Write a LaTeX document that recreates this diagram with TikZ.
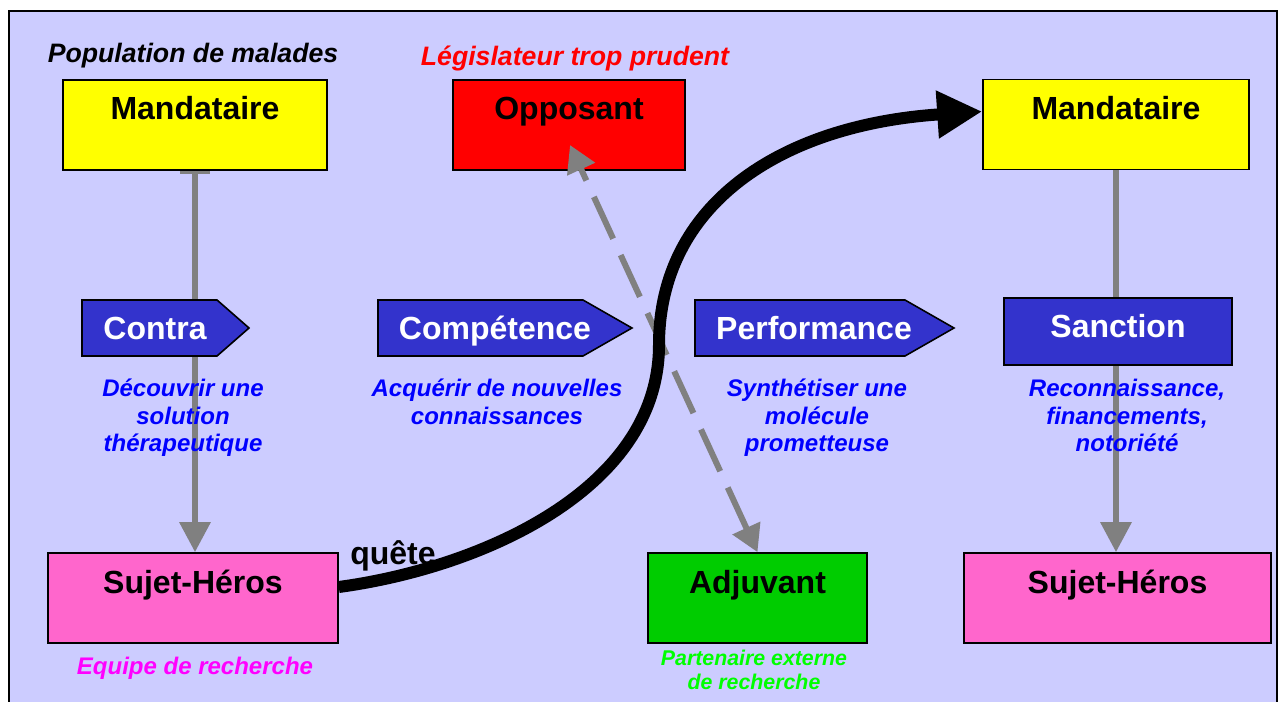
\documentclass[tikz,border=0pt]{standalone}
\usepackage{fontspec}
\setmainfont{Liberation Sans}
\usetikzlibrary{arrows.meta,calc,backgrounds}

\definecolor{fond}{HTML}{CCCCFF}
\definecolor{jaune}{HTML}{FFFF00}
\definecolor{rouge}{HTML}{FF0000}
\definecolor{rose}{HTML}{FF66CC}
\definecolor{vert}{HTML}{00CC00}
\definecolor{bleu}{HTML}{3333CC}
\definecolor{gris}{HTML}{808080}
\definecolor{bleutxt}{HTML}{0000FF}
\definecolor{magentatxt}{HTML}{FF00FF}
\definecolor{verttxt}{HTML}{00FF00}

\begin{document}
\begin{tikzpicture}[x=0.75pt,y=-0.75pt,
    actant/.style={draw,line width=1.2pt,inner sep=0pt,text height=30pt,text depth=37.5pt,font=\bfseries\fontsize{24}{28}\selectfont},
    etape/.style={draw,line width=1.2pt,fill=bleu},
    etapetxt/.style={anchor=base,inner sep=0pt,text=white,font=\bfseries\fontsize{24}{28}\selectfont},
    legende/.style={anchor=north,align=center,inner sep=0pt,text=bleutxt,font=\bfseries\itshape\fontsize{18}{20.6}\selectfont},
    titre/.style={anchor=base,inner sep=0pt,font=\bfseries\itshape\fontsize{20}{24}\selectfont},
    liaison/.style={draw=gris,line width=4.5pt,-{Triangle[length=22.5pt,width=22.5pt]}},
    pointille/.style={draw=gris,line width=4.5pt,dash pattern=on 34.5pt off 13.5pt,{Triangle[length=20pt,width=22pt]}-{Triangle[length=20pt,width=22pt]}},
    quete/.style={draw=black,line width=9pt,-{Triangle[length=33.75pt,width=33.75pt]}}]
    %
    \node[actant,fill=jaune,minimum width=198pt](mandL) at (195,125){Mandataire};
    \node[actant,fill=rouge,minimum width=174pt](opp) at (569,125){Opposant};
    \node[actant,fill=jaune,minimum width=199.5pt](mandR) at (1116,124.5){Mandataire};
    %
    \node[actant,fill=rose,minimum width=217.5pt](sujL) at (193,598){Sujet-Héros};
    \node[actant,fill=vert,minimum width=164.25pt](adj) at (757.5,598){Adjuvant};
    \node[actant,fill=rose,minimum width=230.25pt](sujR) at (1117.5,598){Sujet-Héros};
    %
    \begin{scope}[on background layer]
        \useasboundingbox (0,0) rectangle (1283,702);
        \fill[white] (0,0) rectangle (1283,702);
        \fill[fond] (9,11) rectangle (1277,702);
        \draw[line width=1.5pt] (9,702) -- (9,11) -- (1277,11) -- (1277,702);
        %
        \draw[liaison,{Bar[width=22.5pt,line width=2.25pt]}-{Triangle[length=22.5pt,width=22.5pt]}] (mandL.south) -- (mandL.south |- sujL.north);
        \draw[liaison] (mandR.south) -- (mandR.south |- sujR.north);
    \end{scope}
    %
    \draw[etape] (82,300) -- (217,300) -- (249,328) -- (217,356) -- (82,356) -- cycle;
    \node[etapetxt](contra) at (155,340){Contra};
    \draw[etape] (378,300) -- (583,300) -- (632,328) -- (583,356) -- (378,356) -- cycle;
    \node[etapetxt](comp) at (495,340){Compétence};
    \draw[etape] (695,300) -- (905,300) -- (954,328) -- (905,356) -- (695,356) -- cycle;
    \node[etapetxt](perf) at (814,340){Performance};
    \node[actant,fill=bleu,text=white,minimum width=171pt,text depth=20.25pt](sanc) at (1118,331.5){Sanction};
    %
    \node[legende](contraL) at (183,379){Découvrir une\\solution\\thérapeutique};
    \node[legende](compL) at (497,379){Acquérir de nouvelles\\connaissances};
    \node[legende](perfL) at (817,379){Synthétiser une\\molécule\\prometteuse};
    \node[legende](sancL) at (1127,379){Reconnaissance,\\financements,\\notoriété};
    %
    \node[titre](popu) at (193,63){Population de malades};
    \node[titre,text=rouge](legis) at (575,66){Législateur trop prudent};
    \node[titre,text=magentatxt,font=\bfseries\itshape\fontsize{18}{20}\selectfont](equipe) at (195,674){Equipe de recherche};
    \node[legende,text=verttxt,font=\bfseries\itshape\fontsize{16}{18.4}\selectfont](adjL) at (754,649.5){Partenaire externe\\de recherche};
    %
    \coordinate (oppin) at (570,145);
    \draw[pointille] (adj.north) -- (oppin);
    %
    \draw[quete] ($(sujL.east)+(0,-11)$) .. controls (480,568) and (659,490) .. (659,345) .. controls (659,205) and (780,125) .. ($(mandR.west)+(0,-13)$);
    \node[anchor=base,inner sep=0pt,font=\bfseries\fontsize{24}{28}\selectfont](qlab) at (393,565){quête};
\end{tikzpicture}
\end{document}
